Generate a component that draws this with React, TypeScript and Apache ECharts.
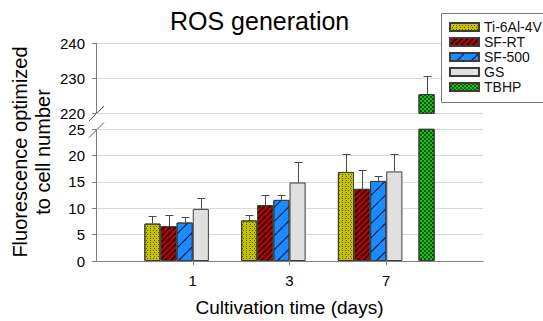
import React, { useEffect, useRef } from "react";
import * as echarts from "echarts";

const categories = ["1", "3", "7"];
const tiValues = [7.1, 7.7, 16.9];
const tiErrors = [1.4, 1.1, 3.5];
const sfRtValues = [6.6, 10.6, 13.7];
const sfRtErrors = [2.1, 1.9, 3.5];
const sf500Values = [7.3, 11.6, 15.2];
const sf500Errors = [1.0, 0.9, 0.9];
const gsValues = [9.9, 14.9, 17.0];
const gsErrors = [2.0, 3.9, 3.3];
const tbhpValues: (number | null)[] = [null, null, 225.5];
const tbhpErrors: (number | null)[] = [null, null, 5.1];

const lowerAxis = { min: 0, max: 25, interval: 5 };
const upperAxis = { min: 220, max: 240, interval: 10 };

const FONT = 'Arial, "Liberation Sans", sans-serif';
const AXIS_GRAY = "#7f7f7f";
const GRID_GRAY = "#d9d9d9";
const BORDER = "#3c3c3c";

type Group = {
  name: string;
  values: (number | null)[];
  errors: (number | null)[];
  slot: number;
  color: string;
  decal?: any;
};

const groups: Group[] = [
  {
    name: "Ti-6Al-4V",
    values: tiValues,
    errors: tiErrors,
    slot: 0,
    color: "#c6c400",
    decal: {
      symbol: "rect",
      symbolSize: 1,
      dashArrayX: [[1, 2], [0, 1.5, 1, 0.5]],
      dashArrayY: [1, 1],
      color: "rgba(40,40,0,0.75)",
    },
  },
  {
    name: "SF-RT",
    values: sfRtValues,
    errors: sfRtErrors,
    slot: 1,
    color: "#c80000",
    decal: {
      symbol: "rect",
      symbolSize: 1,
      dashArrayX: [1, 0],
      dashArrayY: [1.3, 1.7],
      rotation: -Math.PI / 4,
      color: "rgba(20,0,0,0.85)",
    },
  },
  {
    name: "SF-500",
    values: sf500Values,
    errors: sf500Errors,
    slot: 2,
    color: "#1a8cff",
    decal: {
      symbol: "rect",
      symbolSize: 1,
      dashArrayX: [1, 0],
      dashArrayY: [1, 9],
      rotation: -Math.PI / 4,
      color: "rgba(0,0,30,0.9)",
    },
  },
  {
    name: "GS",
    values: gsValues,
    errors: gsErrors,
    slot: 3,
    color: "#e0e0e0",
  },
  {
    name: "TBHP",
    values: tbhpValues,
    errors: tbhpErrors,
    slot: 5,
    color: "#1cc21c",
    decal: {
      symbol: "rect",
      symbolSize: 1,
      dashArrayX: [[1.5, 1.5], [0, 1.5, 1.5, 0]],
      dashArrayY: [1.5, 0],
      color: "rgba(0,50,0,0.75)",
    },
  },
];

const xData = ["", ...categories, ""];
const pad = (arr: (number | null)[]) => [null, ...arr, null];

function errorRender(params: any, api: any) {
  const ci = api.value(0);
  const v = api.value(1);
  const t = api.value(2);
  const slot = api.value(3);
  const base = api.coord([ci, v]);
  const top = api.coord([ci, t]);
  const w = (api.coord([2, v])[0] - api.coord([1, v])[0]) / 6;
  const x = Math.round(base[0] + (slot - 2.5) * w) + 0.5;
  const y2 = Math.round(top[1]) + 0.5;
  const style = { stroke: "#4a4a4a", lineWidth: 1 };
  return {
    type: "group",
    children: [
      { type: "line", shape: { x1: x, y1: base[1], x2: x, y2 }, style },
      { type: "line", shape: { x1: x - 4, y1: y2, x2: x + 4, y2 }, style },
    ],
  };
}

export default function App() {
  const ref = useRef<HTMLDivElement>(null);
  useEffect(() => {
    if (!ref.current) return;
    const chart = echarts.init(ref.current, null, { renderer: "svg" });

    const slots = [0, 1, 2, 3, 4, 5];
    const bySlot = (s: number) => groups.find((g) => g.slot === s);

    const barSeries: any[] = [];
    [0, 1].forEach((gi) => {
      slots.forEach((s) => {
        const g = bySlot(s);
        let data: (number | null)[] = pad([null, null, null]);
        if (g) {
          const isUpper = gi === 1;
          if (!isUpper || g.name === "TBHP") data = pad(g.values);
        }
        barSeries.push({
          type: "bar",
          name: g ? g.name : "_empty" + gi,
          xAxisIndex: gi,
          yAxisIndex: gi,
          data,
          barGap: "0%",
          barCategoryGap: "0%",
          clip: true,
          itemStyle: {
            color: g ? g.color : "transparent",
            borderColor: BORDER,
            borderWidth: 1,
            decal: g && g.decal ? g.decal : undefined,
          },
          emphasis: { disabled: true },
        });
      });
    });

    const lowerErr: any[] = [];
    const upperErr: any[] = [];
    groups.forEach((g) => {
      g.values.forEach((v, i) => {
        const e = g.errors[i];
        if (v == null || e == null) return;
        const item = [i + 1, v, v + e, g.slot];
        if (v > lowerAxis.max) upperErr.push(item);
        else lowerErr.push(item);
      });
    });

    const xAxisBase = {
      type: "category",
      data: xData,
      boundaryGap: false,
    };

    const option: any = {
      animation: false,
      backgroundColor: "#fff",
      textStyle: { fontFamily: FONT },
      title: {
        text: "ROS generation",
        left: 170,
        top: 8,
        padding: 0,
        textStyle: { fontSize: 25, fontWeight: "normal", color: "#000", fontFamily: FONT },
      },
      legend: {
        orient: "vertical",
        left: 441,
        top: 13,
        padding: [6.5, 0, 7, 8],
        itemGap: 0,
        itemWidth: 29,
        itemHeight: 8,
        icon: "rect",
        backgroundColor: "transparent",
        borderWidth: 0,
        z: 6,
        textStyle: { fontSize: 14, lineHeight: 15, color: "#111", fontFamily: FONT },
        data: groups.map((g) => g.name),
      },
      grid: [
        { left: 96, right: 60, top: 129.3, bottom: 60 },
        { left: 96, right: 60, top: 43.3, height: 70 },
      ],
      xAxis: [
        {
          ...xAxisBase,
          gridIndex: 0,
          axisLine: { show: true, lineStyle: { color: AXIS_GRAY, width: 1 } },
          axisTick: {
            show: true,
            length: 4,
            interval: (i: number, v: string) => v !== "",
            lineStyle: { color: AXIS_GRAY },
          },
          axisLabel: {
            interval: 0,
            margin: 12,
            fontSize: 15,
            color: "#000",
            fontFamily: FONT,
          },
          splitLine: { show: false },
          name: "Cultivation time (days)",
          nameLocation: "middle",
          nameGap: 37,
          nameTextStyle: { fontSize: 19, color: "#000", fontFamily: FONT },
        },
        {
          ...xAxisBase,
          gridIndex: 1,
          axisLine: { show: false },
          axisTick: { show: false },
          axisLabel: { show: false },
          splitLine: { show: false },
        },
      ],
      yAxis: [
        {
          type: "value",
          gridIndex: 0,
          ...lowerAxis,
          axisLine: { show: true, lineStyle: { color: AXIS_GRAY } },
          axisTick: { show: true, length: 4, lineStyle: { color: AXIS_GRAY } },
          axisLabel: { fontSize: 15, color: "#000", margin: 11, fontFamily: FONT },
          splitLine: { show: true, lineStyle: { color: GRID_GRAY, width: 1 } },
        },
        {
          type: "value",
          gridIndex: 1,
          ...upperAxis,
          axisLine: { show: true, lineStyle: { color: AXIS_GRAY } },
          axisTick: { show: true, length: 4, lineStyle: { color: AXIS_GRAY } },
          axisLabel: { fontSize: 15, color: "#000", margin: 11, fontFamily: FONT },
          splitLine: { show: true, lineStyle: { color: GRID_GRAY, width: 1 } },
        },
      ],
      series: [
        ...barSeries,
        {
          type: "custom",
          name: "_errLower",
          xAxisIndex: 0,
          yAxisIndex: 0,
          renderItem: errorRender,
          data: lowerErr,
          encode: { x: 0, y: [1, 2] },
          z: 5,
          silent: true,
        },
        {
          type: "custom",
          name: "_errUpper",
          xAxisIndex: 1,
          yAxisIndex: 1,
          renderItem: errorRender,
          data: upperErr,
          encode: { x: 0, y: [1, 2] },
          z: 5,
          silent: true,
        },
      ],
      graphic: [
        {
          type: "rect",
          z: 5,
          shape: { x: 441.5, y: 13.5, width: 130, height: 89 },
          style: { fill: "#fff", stroke: "#7a7a7a", lineWidth: 1 },
        },
        {
          type: "text",
          x: 31,
          y: 152,
          rotation: Math.PI / 2,
          style: {
            text: "Fluorescence optimized\nto cell number",
            fontSize: 20,
            lineHeight: 23,
            fontFamily: FONT,
            fill: "#000",
            align: "center",
            verticalAlign: "middle",
          },
        },
        {
          type: "line",
          shape: { x1: 89, y1: 121, x2: 104, y2: 106 },
          style: { stroke: "#555", lineWidth: 1 },
        },
        {
          type: "line",
          shape: { x1: 89, y1: 137.5, x2: 104, y2: 122.5 },
          style: { stroke: "#555", lineWidth: 1 },
        },
      ],
    };

    chart.setOption(option);
    return () => chart.dispose();
  }, []);

  return (
    <div
      ref={ref}
      style={{ position: "fixed", left: 0, top: 0, width: 543, height: 321 }}
    />
  );
}
